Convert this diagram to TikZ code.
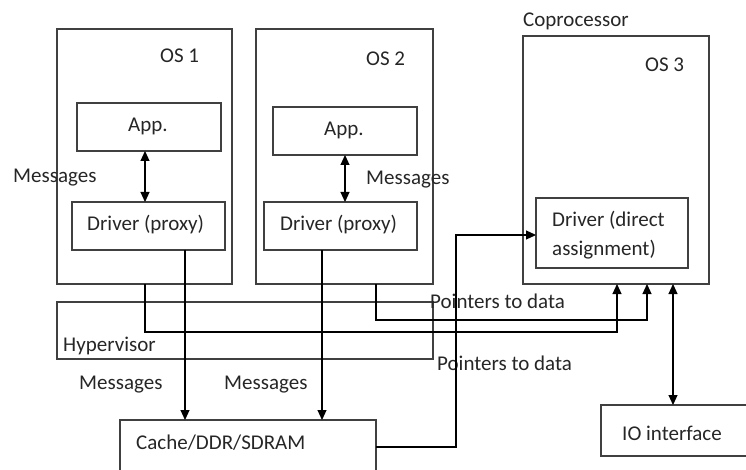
\documentclass[tikz,border=0pt]{standalone}
\usepackage{fontspec}
\setmainfont{Carlito}
\usetikzlibrary{arrows.meta}
\begin{document}
\begin{tikzpicture}[x=1pt,y=-1pt,
  box/.style={draw=black!75,line width=1.1pt,inner sep=0pt,outer sep=0pt,anchor=north west},
  lbl/.style={anchor=base west,inner sep=0pt,font=\fontsize{21}{25}\selectfont,text=black!85},
  conn/.style={draw=black,line width=1.1pt},
  arr/.style={conn,-{Triangle[length=10pt,width=9pt]}},
  darr/.style={conn,{Triangle[length=10pt,width=9pt]}-{Triangle[length=10pt,width=9pt]}}]
\useasboundingbox (0,0) rectangle (746,470);
\clip (0,0) rectangle (746,470);
% boxes
\node[box,minimum width=175pt,minimum height=255pt] (os1) at (57,29) {};
\node[box,minimum width=177pt,minimum height=255pt] (os2) at (256,29) {};
\node[box,minimum width=186pt,minimum height=248pt] (os3) at (523,36) {};
\node[box,minimum width=144pt,minimum height=48pt] (app1) at (77,103) {};
\node[box,minimum width=144pt,minimum height=48pt] (app2) at (273,107) {};
\node[box,minimum width=153pt,minimum height=48pt] (drv1) at (72,202) {};
\node[box,minimum width=153pt,minimum height=48pt] (drv2) at (264,202) {};
\node[box,minimum width=152pt,minimum height=70pt] (drv3) at (536,198) {};
\node[box,minimum width=376pt,minimum height=57pt] (hyp) at (57,302) {};
\node[box,minimum width=256pt,minimum height=80pt] (mem) at (120,420) {};
\node[box,minimum width=160pt,minimum height=51pt] (io) at (601,405) {};
% texts
\node[lbl] (tos1) at (160,63) {OS 1};
\node[lbl] (tos2) at (366,66) {OS 2};
\node[lbl] (tos3) at (645,72) {OS 3};
\node[lbl] (tcop) at (523,27) {Coprocessor};
\node[lbl] (tapp1) at (128,132) {App.};
\node[lbl] (tapp2) at (324,136) {App.};
\node[lbl] (tdrv1) at (87,230) {Driver (proxy)};
\node[lbl] (tdrv2) at (280,230) {Driver (proxy)};
\node[lbl] (tdrv3a) at (552,227) {Driver (direct};
\node[lbl] (tdrv3b) at (552,255) {assignment)};
\node[lbl] (tmsg1) at (13,183) {Messages};
\node[lbl] (tmsg2) at (366,185) {Messages};
\node[lbl] (thyp) at (63,351) {Hypervisor};
\node[lbl] (tmsg3) at (79,389) {Messages};
\node[lbl] (tmsg4) at (224,389) {Messages};
\node[lbl] (tptr1) at (430,308) {Pointers to data};
\node[lbl] (tptr2) at (437,370) {Pointers to data};
\node[lbl] (tmem) at (136,449) {Cache/DDR/SDRAM};
\node[lbl] (tio) at (622,440) {IO interface};
% connectors
\draw[darr] (145,0 |- app1.south) -- (145,0 |- drv1.north);
\draw[darr] (345,0 |- app2.south) -- (345,0 |- drv2.north);
\draw[arr] (185,0 |- drv1.south) -- (185,0 |- mem.north);
\draw[arr] (322,0 |- drv2.south) -- (322,0 |- mem.north);
\draw[arr] (145,0 |- os1.south) -- (145,332) -- (617,332) -- (617,0 |- os3.south);
\draw[arr] (376,0 |- os2.south) -- (376,320) -- (647,320) -- (647,0 |- os3.south);
\draw[arr] (mem.east |- 0,447) -- (456,447) -- (456,235) -- (drv3.west |- 0,235);
\draw[darr] (673,0 |- os3.south) -- (673,0 |- io.north);
\end{tikzpicture}
\end{document}
